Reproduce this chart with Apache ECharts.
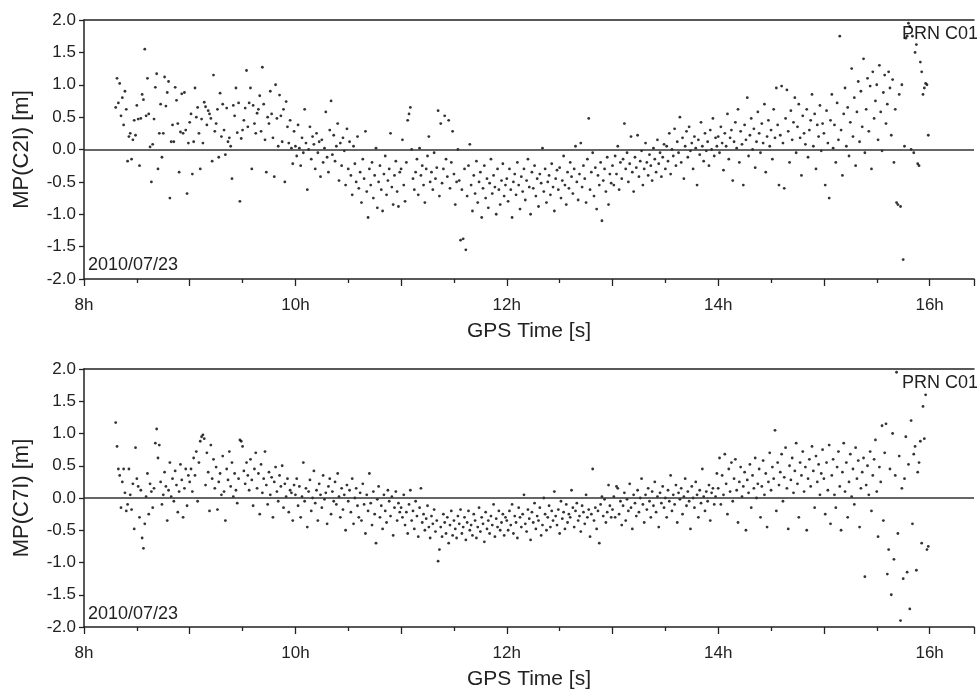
<!DOCTYPE html>
<html>
<head>
<meta charset="utf-8">
<script src="https://cdn.jsdelivr.net/npm/echarts@6/dist/echarts.min.js"></script>
<style>
  html, body { margin: 0; padding: 0; background: #fff; }
  #chart { width: 977px; height: 691px; }
</style>
</head>
<body>
<div id="chart"></div>
<script>
// epochs every 45 s, each block starts at the given hour
const STEP_H = 45 / 3600

// MP(C2I) [m]
const c2i_08 = [
  0.65, 1.10, 0.72, 1.02, 0.52, 0.80, 0.38, 0.90, 0.62, -0.18,
  0.20, 0.25, -0.15, 0.15, 0.45, 0.22, 0.68, 0.47, -0.25, 0.48,
  0.85, 0.77, 1.55, 0.52, 1.10, 0.55, 0.04, -0.50, 0.08, 0.47,
  0.96, 1.17, -0.30, 0.25, 0.70, -0.12, 0.25, 1.12, 0.67, 0.88,
  1.05, -0.75, 0.12, 0.38, 0.12, 0.96, 0.76, 0.40, -0.35, 0.27,
  0.86, 0.25, 0.88, 0.30, -0.68, 0.10
]
const c2i_09 = [
  0.42, 0.55, -0.38, 0.12, 0.95, 0.50, 0.65, 0.25, -0.30, 0.47,
  0.10, 0.73, 0.66, 0.38, 0.60, 0.55, 0.48, -0.18, 1.15, 0.28,
  0.40, 0.62, -0.12, 0.87, 0.20, 0.70, 0.30, -0.08, 0.64, 0.12,
  0.18, 0.05, -0.45, 0.68, 0.52, 0.95, 0.26, 0.72, -0.80, 0.17,
  0.30, 0.45, 0.64, 1.22, 0.35, 0.72, 0.95, -0.30, 0.68, 0.40,
  0.25, 0.56, 0.62, 0.83, 0.28, 1.27, 0.70, 0.15, -0.35, 0.50,
  0.40, 0.90, 0.55, 0.18, -0.42, 1.00, 0.48, 0.05, 0.84, 0.52,
  0.12, 0.62, -0.50, 0.74, 0.35, 0.10, 0.45, 0.02, -0.22, 0.28
]
const c2i_10 = [
  0.05, -0.10, 0.38, 0.02, -0.25, 0.18, -0.05, 0.62, 0.10, -0.62,
  0.00, 0.35, -0.15, 0.20, 0.08, -0.30, 0.25, -0.05, 0.12, -0.42,
  0.15, -0.20, 0.02, 0.58, -0.12, -0.35, 0.30, 0.75, -0.08, 0.22,
  -0.18, 0.05, 0.40, -0.48, 0.10, -0.25, 0.18, -0.02, -0.55, 0.32,
  -0.30, 0.12, -0.40, -0.70, 0.05, -0.22, -0.50, 0.20, -0.60, -0.35,
  -0.82, -0.15, -0.45, 0.28, -0.65, -1.05, -0.30, -0.55, -0.20, -0.75,
  -0.40, 0.02, -0.90, -0.50, -0.25, -0.62, -0.95, -0.38, -0.10, -0.70,
  -0.48, -0.30, 0.25, -0.58, -0.85, -0.40, -0.18, -0.65, -0.88, -0.35
]
const c2i_11 = [
  -0.30, 0.15, -0.55, -0.80, -0.20, 0.45, 0.55, 0.65, 0.00, -0.45,
  -0.62, -0.35, -0.15, -0.70, 0.02, -0.40, -0.25, -0.55, -0.82, -0.30,
  -0.10, 0.20, -0.50, -0.35, -0.62, -0.05, -0.45, -0.28, 0.60, -0.72,
  0.40, -0.52, -0.30, 0.52, -0.15, -0.42, 0.45, -0.60, -0.20, 0.28,
  -0.38, -0.85, -0.50, 0.00, -0.48, -1.40, -0.62, -1.38, -0.30, -1.55,
  -0.72, -0.25, 0.08, -0.55, -0.95, -0.40, -0.68, -0.18, -0.82, -0.50,
  -0.35, -1.05, -0.60, -0.25, -0.75, -0.45, -0.90, -0.52, -0.15, -0.68,
  -0.40, -0.58, -1.00, -0.30, -0.62, -0.85, -0.48, -0.22, -0.72, -0.55
]
const c2i_12 = [
  -0.45, -0.80, -0.30, -0.62, -1.05, -0.50, -0.38, -0.70, -0.20, -0.55,
  -0.92, -0.42, -0.65, -0.30, -0.78, -0.48, -0.15, -0.58, -1.00, -0.35,
  -0.60, -0.25, -0.72, -0.45, -0.88, -0.38, -0.52, 0.02, -0.65, -0.30,
  -0.82, -0.50, -0.40, -0.70, -0.22, -0.58, -0.95, -0.45, -0.32, -0.62,
  -0.28, -0.75, -0.48, -0.10, -0.55, -0.85, -0.35, -0.60, -0.20, -0.42,
  -0.68, -0.30, 0.05, -0.50, -0.78, -0.38, 0.10, -0.58, -0.25, -0.45,
  -0.82, -0.15, 0.48, -0.62, -0.35, -0.05, -0.72, -0.28, -0.92, -0.40,
  -0.55, -0.20, -1.10, -0.48, -0.30, -0.65, -0.12, -0.85, -0.38, -0.52
]
const c2i_13 = [
  -0.25, -0.55, -0.10, -0.38, 0.05, -0.62, -0.20, -0.45, -0.15, 0.40,
  -0.30, -0.05, -0.50, -0.22, 0.20, -0.35, -0.65, -0.12, -0.28, 0.22,
  -0.42, -0.18, -0.02, -0.55, -0.30, 0.10, -0.20, -0.40, -0.08, -0.25,
  -0.48, 0.02, -0.15, -0.35, 0.15, -0.22, -0.05, -0.42, -0.12, 0.08,
  -0.30, 0.05, -0.18, 0.25, -0.38, 0.00, -0.10, 0.32, -0.25, 0.12,
  -0.05, 0.50, -0.20, 0.18, -0.45, 0.05, 0.28, -0.12, 0.35, -0.02,
  0.10, -0.30, 0.20, 0.02, -0.55, 0.15, -0.08, 0.42, 0.05, -0.18,
  0.25, -0.02, 0.12, -0.25, 0.30, 0.00, 0.48, -0.10, 0.18, 0.05
]
const c2i_14 = [
  0.20, -0.05, 0.35, 0.10, -0.32, 0.25, 0.05, 0.55, -0.15, 0.18,
  0.30, -0.48, 0.12, 0.42, 0.02, 0.62, -0.20, 0.28, 0.08, -0.55,
  0.38, 0.15, 0.80, -0.10, 0.22, 0.48, 0.00, 0.32, -0.28, 0.12,
  0.58, 0.25, -0.05, 0.40, 0.10, 0.70, -0.35, 0.20, 0.45, 0.05,
  0.30, -0.15, 0.62, 0.18, 0.95, 0.38, -0.55, 0.22, 0.98, 0.10,
  -0.60, 0.48, 0.92, 0.28, -0.20, 0.60, 0.15, 0.42, 0.80, -0.05,
  0.35, 0.70, 0.18, -0.40, 0.52, 0.25, 0.08, 0.62, -0.12, 0.30,
  0.45, 0.85, 0.05, 0.55, -0.30, 0.38, 0.20, 0.68, -0.02, 0.40
]
const c2i_15 = [
  0.25, -0.55, 0.60, 0.10, -0.75, 0.45, 0.85, 0.02, 0.38, -0.20,
  0.72, 0.15, 1.75, 0.30, -0.40, 0.55, 0.95, 0.05, 0.65, -0.10,
  0.42, 1.25, 0.20, 0.80, -0.25, 0.58, 1.05, 0.12, 0.90, 0.35,
  1.40, -0.05, 0.62, 1.10, 0.28, 0.98, -0.30, 1.20, 0.48, 0.75,
  1.00, 0.15, 1.30, 0.58, -0.02, 0.88, 1.15, 0.40, 0.70, 1.20,
  0.95, 0.22, 1.08, -0.20, 0.62, -0.82, -0.85, 0.85, -0.88, 1.00,
  -1.70, 0.05, 1.72, 1.75, 1.95, 1.90, 0.00, 1.75, -0.05, 1.50,
  1.62, -0.22, -0.25, 1.35, 1.20, 0.85, 0.95, 1.02, 1.00, 0.22
]

// MP(C7I) [m]
const c7i_08 = [
  1.17, 0.80, 0.45, 0.35, -0.15, 0.25, 0.45, 0.08, -0.20, -0.10,
  0.45, 0.05, -0.18, 0.22, -0.48, 0.78, 0.30, 0.18, -0.30, 0.12,
  -0.62, -0.78, -0.40, 0.02, 0.38, -0.25, 0.22, 0.10, -0.15, 0.15,
  0.85, 1.07, 0.62, 0.82, 0.25, -0.10, 0.05, 0.40, 0.18, -0.35,
  0.12, 0.55, 0.02, 0.30, -0.05, 0.42, 0.20, -0.22, 0.10, 0.52,
  0.28, -0.30, 0.15, 0.45, -0.12, 0.35
]
const c7i_09 = [
  0.25, 0.45, 0.10, 0.62, 0.35, 0.72, -0.05, 0.55, 0.88, 0.95,
  0.98, 0.92, 0.20, 0.70, 0.40, -0.20, 0.82, 0.30, 0.60, 0.15,
  0.48, -0.18, 0.25, 0.38, 0.05, 0.65, 0.10, -0.35, 0.45, 0.28,
  0.72, 0.18, 0.55, 0.02, 0.38, 0.12, -0.08, 0.30, 0.90, 0.88,
  0.80, 0.42, 0.22, 0.55, 0.35, 0.12, 0.60, 0.28, -0.12, 0.45,
  0.70, 0.15, 0.38, -0.25, 0.52, 0.08, 0.30, 0.72, 0.20, -0.10,
  0.40, 0.05, 0.32, -0.30, 0.25, 0.48, 0.10, -0.05, 0.35, 0.18,
  0.50, -0.15, 0.22, 0.02, 0.30, -0.22, 0.12, 0.08, -0.35, 0.20
]
const c7i_10 = [
  0.05, 0.30, -0.12, 0.18, -0.30, 0.02, 0.55, -0.05, 0.15, -0.45,
  0.10, 0.28, -0.20, 0.00, 0.42, -0.08, 0.12, -0.35, 0.22, 0.05,
  -0.15, 0.35, -0.02, 0.08, -0.40, 0.18, 0.30, -0.25, 0.10, -0.05,
  0.25, -0.10, 0.38, 0.02, -0.30, 0.15, -0.18, 0.05, -0.50, 0.20,
  -0.05, 0.12, -0.22, 0.30, -0.40, 0.00, 0.15, -0.12, -0.30, 0.08,
  -0.35, 0.22, -0.10, -0.55, 0.05, -0.20, 0.38, -0.08, -0.42, 0.10,
  -0.25, -0.70, -0.02, 0.18, -0.30, -0.12, -0.48, 0.05, -0.20, -0.38,
  0.12, -0.05, -0.28, 0.02, -0.58, -0.15, 0.10, -0.35, -0.08, -0.22
]
const c7i_11 = [
  -0.15, -0.30, 0.05, -0.42, -0.22, -0.55, -0.10, 0.12, -0.35, -0.20,
  -0.48, -0.05, -0.28, -0.60, -0.15, 0.15, -0.38, -0.25, -0.50, -0.32,
  -0.12, -0.45, -0.62, -0.28, -0.40, -0.18, -0.52, -0.35, -0.98, -0.80,
  -0.45, -0.60, -0.25, -0.38, -0.55, -0.30, -0.70, -0.42, -0.20, -0.58,
  -0.35, -0.48, -0.62, -0.28, -0.40, -0.18, -0.55, -0.45, -0.30, -0.65,
  -0.38, -0.20, -0.50, -0.42, -0.58, -0.25, -0.35, -0.62, -0.45, -0.15,
  -0.52, -0.30, -0.40, -0.68, -0.22, -0.48, -0.35, -0.55, -0.28, -0.42,
  -0.10, -0.60, -0.32, -0.45, -0.20, -0.50, -0.38, -0.25, -0.58, -0.30
]
const c7i_12 = [
  -0.35, -0.50, -0.20, -0.42, -0.10, -0.55, -0.28, -0.38, -0.62, -0.15,
  -0.30, -0.45, -0.25, 0.05, -0.40, -0.52, -0.18, -0.32, -0.65, -0.22,
  -0.38, -0.08, -0.48, -0.28, -0.35, -0.15, -0.58, -0.42, 0.00, -0.25,
  -0.50, -0.30, -0.12, -0.45, -0.20, -0.35, 0.10, -0.28, -0.42, -0.18,
  -0.55, -0.05, -0.32, -0.22, -0.48, -0.10, -0.38, -0.25, -0.30, 0.12,
  -0.15, -0.45, -0.20, -0.08, -0.35, -0.28, -0.52, -0.12, -0.22, -0.40,
  0.05, -0.30, -0.18, -0.60, -0.25, 0.45, -0.35, -0.15, -0.48, -0.20,
  -0.70, -0.10, 0.02, -0.28, -0.02, -0.38, -0.22, 0.20, -0.12, -0.30
]
const c7i_13 = [
  -0.18, 0.02, -0.30, 0.18, 0.15, -0.25, -0.05, -0.42, -0.12, 0.08,
  -0.35, -0.02, -0.20, 0.22, -0.15, -0.48, 0.05, -0.08, -0.28, 0.12,
  -0.22, 0.00, 0.30, -0.10, -0.38, 0.05, -0.18, 0.15, -0.05, -0.30,
  0.10, -0.12, 0.25, -0.22, 0.02, -0.45, 0.08, -0.08, 0.18, -0.15,
  0.00, -0.30, 0.12, -0.05, 0.35, -0.20, 0.05, -0.10, 0.20, -0.38,
  0.08, -0.02, 0.15, -0.25, 0.02, 0.30, -0.12, 0.10, -0.05, -0.48,
  0.18, 0.00, -0.15, 0.25, 0.05, -0.30, 0.12, -0.08, 0.45, 0.02,
  -0.20, 0.10, -0.05, 0.20, -0.35, 0.08, 0.15, -0.10, 0.02, 0.38
]
const c7i_14 = [
  0.15, 0.62, -0.10, 0.35, 0.05, 0.68, 0.22, -0.25, 0.45, 0.10,
  0.55, -0.05, 0.30, 0.60, 0.12, -0.38, 0.25, 0.48, 0.02, 0.18,
  0.40, -0.50, 0.28, 0.08, 0.52, -0.15, 0.35, 0.15, 0.62, 0.00,
  0.22, 0.45, -0.30, 0.18, 0.58, 0.05, 0.38, -0.45, 0.25, 0.70,
  0.12, 0.48, 0.30, 1.05, -0.20, 0.55, 0.20, 0.40, 0.68, -0.05,
  0.32, 0.78, 0.15, -0.48, 0.50, 0.28, 0.62, 0.08, 0.42, 0.85,
  0.22, -0.30, 0.55, 0.35, 0.72, 0.10, 0.48, -0.50, 0.30, 0.60,
  0.18, 0.80, 0.42, -0.15, 0.65, 0.25, 0.52, 0.05, 0.38, 0.75
]
const c7i_15 = [
  0.30, -0.25, 0.55, 0.12, 0.82, -0.40, 0.35, 0.60, 0.05, -0.15,
  0.48, 0.72, 0.18, -0.50, 0.40, 0.85, 0.10, 0.55, -0.30, 0.25,
  0.68, 0.02, 0.45, -0.10, 0.78, 0.30, 0.58, -0.45, 0.15, 0.40,
  0.62, -1.22, 0.20, 0.50, 0.05, 0.72, -0.20, 0.35, 0.60, 0.90,
  0.10, -0.60, 0.48, 0.25, 1.12, -0.35, 0.70, 1.15, -1.18, -0.80,
  0.45, -1.50, 1.00, -0.95, 0.35, 1.95, -0.55, 0.65, -1.90, 0.15,
  -1.25, 0.30, 0.95, -1.15, 0.52, -1.72, 1.20, -0.40, 0.68, 0.80,
  -1.12, 0.40, 0.55, 0.88, -0.70, 1.42, 0.92, 1.60, -0.80, -0.75
]

const blockStarts = [8.3, 9, 10, 11, 12, 13, 14, 15]
const c2iBlocks = [c2i_08, c2i_09, c2i_10, c2i_11, c2i_12, c2i_13, c2i_14, c2i_15]
const c7iBlocks = [c7i_08, c7i_09, c7i_10, c7i_11, c7i_12, c7i_13, c7i_14, c7i_15]

const yTicks = [-2, -1.5, -1, -0.5, 0, 0.5, 1, 1.5, 2]
const hourLabels = [8, 10, 12, 14, 16]

function toPoints (blocks) {
  const pts = []
  blocks.forEach((vals, b) => {
    vals.forEach((v, i) => {
      pts.push([blockStarts[b] + i * STEP_H, v])
    })
  })
  return pts
}

const FONT = 'Liberation Sans, Arial, Helvetica, sans-serif'
const GRIDS = [
  { left: 84, right: 0, top: 20, height: 259 },
  { left: 84, right: 0, top: 369, height: 259 }
]

function xAxisFor (idx) {
  return [{
    gridIndex: idx,
    type: 'value',
    min: 8,
    max: 16.42,
    interval: 1,
    name: 'GPS Time [s]',
    nameLocation: 'middle',
    nameGap: 42,
    nameTextStyle: { fontFamily: FONT, fontSize: 21, color: '#222' },
    axisLine: { onZero: false, lineStyle: { color: '#222', width: 1.5 } },
    axisTick: { length: 7, lineStyle: { color: '#222', width: 1.3 } },
    minorTick: { show: true, splitNumber: 2, length: 4, lineStyle: { color: '#222', width: 1.3 } },
    axisLabel: {
      fontFamily: FONT,
      fontSize: 17,
      color: '#222',
      margin: 18,
      formatter: v => hourLabels.indexOf(v) >= 0 ? v + 'h' : ''
    },
    splitLine: { show: false }
  }, {
    // top border of the panel
    gridIndex: idx,
    type: 'value',
    position: 'top',
    min: 8,
    max: 16.42,
    axisLine: { onZero: false, lineStyle: { color: '#222', width: 1.5 } },
    axisTick: { show: false },
    minorTick: { show: false },
    axisLabel: { show: false },
    splitLine: { show: false }
  }]
}

function yAxisFor (idx, name) {
  return {
    gridIndex: idx,
    type: 'value',
    min: -2,
    max: 2,
    interval: 0.5,
    name: name,
    nameLocation: 'middle',
    nameGap: 51,
    nameTextStyle: { fontFamily: FONT, fontSize: 22, color: '#222' },
    axisLine: { show: true, onZero: false, lineStyle: { color: '#222', width: 1.5 } },
    axisTick: { show: true, length: 5, lineStyle: { color: '#222', width: 1.3 } },
    axisLabel: {
      fontFamily: FONT,
      fontSize: 17,
      color: '#222',
      margin: 8,
      formatter: v => yTicks.indexOf(v) >= 0 ? v.toFixed(1) : ''
    },
    splitLine: { show: false }
  }
}

function scatterFor (idx, blocks) {
  return {
    type: 'scatter',
    xAxisIndex: idx * 2,
    yAxisIndex: idx,
    symbol: 'circle',
    symbolSize: 2.8,
    itemStyle: { color: '#000' },
    silent: true,
    animation: false,
    data: toPoints(blocks),
    markLine: {
      silent: true,
      symbol: 'none',
      label: { show: false },
      lineStyle: { color: '#333', width: 1.5, type: 'solid' },
      data: [{ yAxis: 0 }]
    }
  }
}

const chart = echarts.init(document.getElementById('chart'))
chart.setOption({
  backgroundColor: '#fff',
  animation: false,
  grid: GRIDS,
  xAxis: xAxisFor(0).concat(xAxisFor(1)),
  yAxis: [yAxisFor(0, 'MP(C2I) [m]'), yAxisFor(1, 'MP(C7I) [m]')],
  series: [scatterFor(0, c2iBlocks), scatterFor(1, c7iBlocks)],
  graphic: [
    { type: 'text', left: 88, top: 256, style: { text: '2010/07/23', fontFamily: FONT, fontSize: 18, fill: '#222' } },
    { type: 'text', left: 88, top: 605, style: { text: '2010/07/23', fontFamily: FONT, fontSize: 18, fill: '#222' } },
    { type: 'text', left: 902, top: 25, style: { text: 'PRN C01', fontFamily: FONT, fontSize: 18, fill: '#222' } },
    { type: 'text', left: 902, top: 374, style: { text: 'PRN C01', fontFamily: FONT, fontSize: 18, fill: '#222' } }
  ]
})
window.addEventListener('resize', () => chart.resize())
</script>
</body>
</html>
